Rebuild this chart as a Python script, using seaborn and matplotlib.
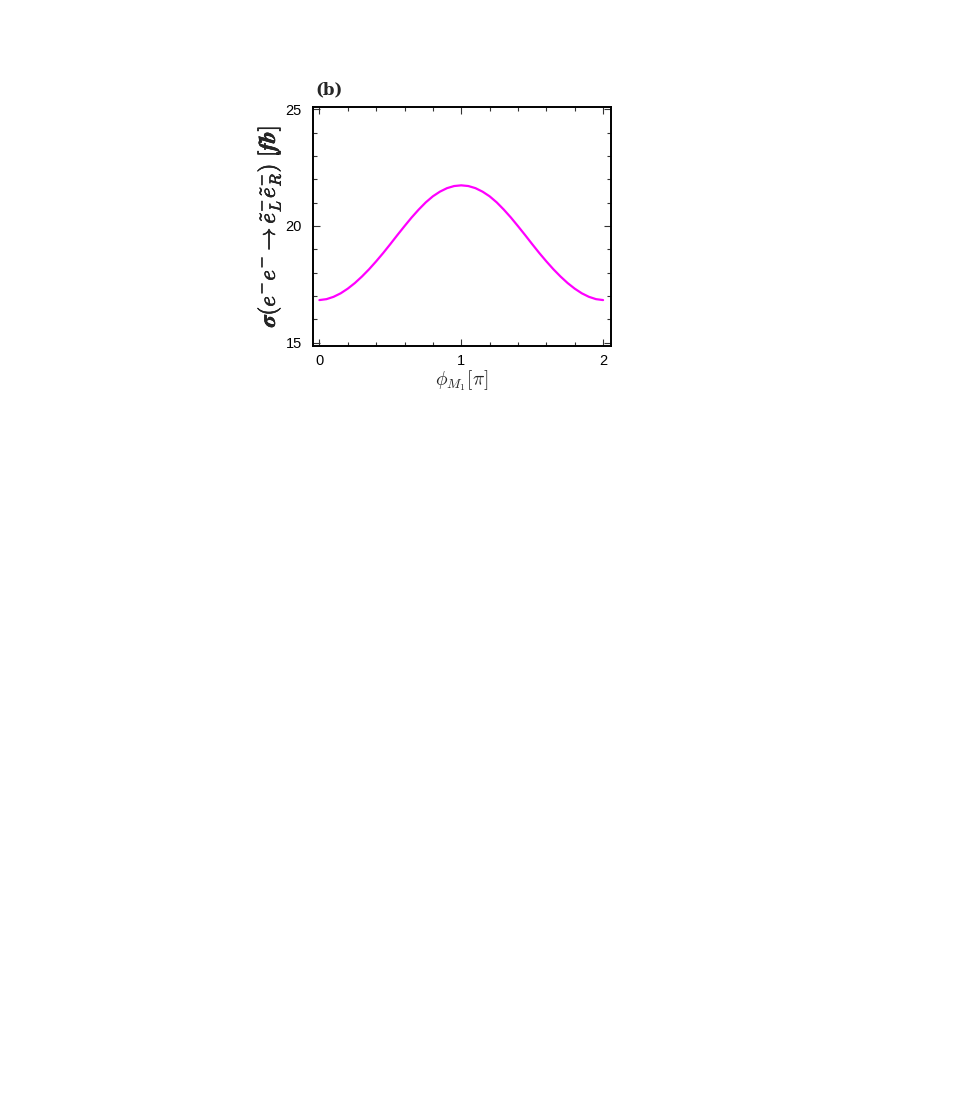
import numpy as np
import pandas as pd
import matplotlib
matplotlib.use("Agg")
import matplotlib.pyplot as plt
import matplotlib.patheffects as pe
import seaborn as sns
from matplotlib.ticker import MultipleLocator

# phi_M1 in units of pi (left half, right half mirrored)
phi_half = [0.00, 0.05, 0.10, 0.15, 0.20, 0.25, 0.30, 0.35, 0.40, 0.45, 0.50,
            0.55, 0.60, 0.65, 0.70, 0.75, 0.80, 0.85, 0.90, 0.95, 1.00]
sigma_half = [16.82, 16.86, 16.96, 17.11, 17.31, 17.55, 17.83, 18.14, 18.48, 18.84, 19.22,
              19.61, 19.99, 20.36, 20.70, 21.01, 21.27, 21.47, 21.62, 21.71, 21.74]

phi = phi_half + [2.0 - p for p in reversed(phi_half[:-1])]
sigma = sigma_half + list(reversed(sigma_half[:-1]))
df = pd.DataFrame({"phi": phi, "sigma": sigma})

sns.set_style("ticks")
plt.rcParams["font.family"] = ["Liberation Sans", "DejaVu Sans"]
plt.rcParams["mathtext.fontset"] = "cm"

fig = plt.figure(figsize=(9.64, 10.95), dpi=100)
ax = fig.add_axes([0.3247, 0.684, 0.309, 0.2183])

sns.lineplot(data=df, x="phi", y="sigma", ax=ax, color="#ff00ff", linewidth=1.6)

ax.set_xlim(-0.045, 2.055)
ax.set_ylim(14.85, 25.1)
ax.xaxis.set_major_locator(MultipleLocator(1))
ax.xaxis.set_minor_locator(MultipleLocator(0.2))
ax.yaxis.set_major_locator(MultipleLocator(5))
ax.yaxis.set_minor_locator(MultipleLocator(1))
ax.tick_params(which="both", direction="in", top=True, right=True, labelsize=10.5,
               width=0.8, color="#333333", labelcolor="black")
ax.tick_params(which="major", length=5, pad=6)
ax.tick_params(axis="y", which="major", pad=8)
ax.tick_params(which="minor", length=3)
for s in ax.spines.values():
    s.set_linewidth(1.4)
    s.set_color("black")

ax.set_xlabel(r"$\phi_{M_1}[\pi]$", fontsize=14, labelpad=0)
yl = ax.set_ylabel(r"$\boldsymbol{\sigma}(e^{{-}}e^{{-}}\to\tilde{e}_L^{{-}}\tilde{e}_R^{{-}})\ [\boldsymbol{f}\boldsymbol{b}]$",
                   fontsize=16.5, labelpad=2)
yl.set_path_effects([pe.withStroke(linewidth=0.4, foreground="black")])
fig.text(0.327, 0.914, "(b)", fontsize=12, fontweight="bold", family="DejaVu Serif")

fig.savefig("out.png", dpi=100)
